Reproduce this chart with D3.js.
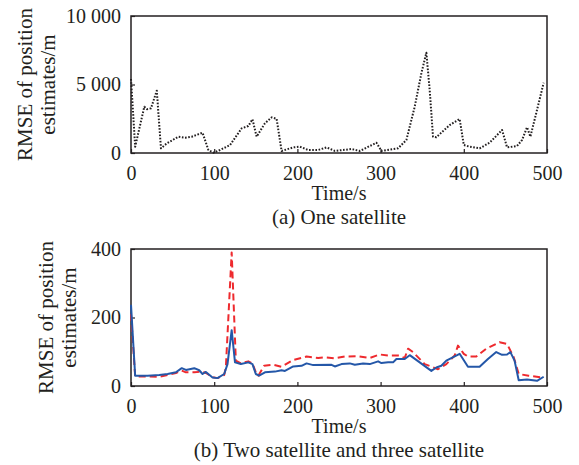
<!DOCTYPE html>
<meta charset="utf-8" />
<html>
<head>
<script src="https://d3js.org/d3.v7.min.js"></script>
<style>
  body { margin: 0; background: #fff; }
  text { font-family: 'Liberation Serif', 'Times New Roman', serif; fill: #231f20; }
</style>
</head>
<body>
<script type="text/javascript">
// (a) one satellite
var oneTime = [0, 5, 16, 19, 24, 31, 36, 43, 57, 65, 73, 86, 93, 99, 107, 119, 133, 141, 146, 151, 161, 169, 175, 181,
  195, 203, 213, 225, 235, 245, 265, 275, 295, 301, 321, 331, 341, 349, 355, 359, 363, 367, 383, 395, 400, 407, 419,
  431, 446, 452, 464, 470, 476, 480, 488, 496];
var oneRmse = [5400, 460, 3380, 3200, 3260, 4550, 340, 700, 1190, 1120, 1190, 1480, 220, 20, 220, 580, 1800, 1970, 2460,
  1190, 2170, 2600, 2500, 150, 410, 460, 220, 220, 410, 150, 290, 150, 750, 150, 340, 950, 3380, 5820, 7320, 4600,
  1190, 1150, 2040, 2480, 580, 460, 340, 750, 1680, 410, 510, 950, 1880, 1190, 3140, 5130];

// (b) two satellite (red dashed)
var twoTime = [0, 5, 20, 34, 44, 54, 61, 66, 76, 86, 90, 98, 104, 112, 114, 121, 126, 132, 141, 146, 150, 153, 160, 171,
  181, 195, 211, 225, 233, 245, 257, 271, 287, 299, 309, 321, 329, 333, 339, 353, 369, 379, 389, 393, 400, 405, 415,
  427, 443, 452, 460, 466, 478, 494];
var twoRmse = [210, 28, 28, 27, 32, 38, 45, 40, 40, 42, 38, 26, 23, 32, 54, 390, 74, 66, 72, 66, 40, 30, 59, 62,
  56, 76, 86, 82, 84, 81, 86, 87, 82, 92, 89, 89, 82, 109, 99, 64, 49, 64, 89, 118, 94, 86, 86,
  109, 128, 123, 84, 35, 30, 25];

// three satellite (blue solid)
var threeTime = [0, 5, 20, 34, 44, 54, 61, 66, 76, 82, 86, 90, 98, 104, 112, 116, 121, 125, 132, 141, 146, 150, 154, 161,
  173, 181, 185, 195, 205, 211, 219, 241, 245, 253, 263, 269, 279, 287, 297, 301, 309, 315, 319, 329, 335, 347, 361,
  367, 373, 379, 395, 405, 419, 429, 439, 446, 452, 456, 461, 466, 476, 488, 496];
var threeRmse = [237, 30, 30, 32, 35, 40, 52, 47, 52, 46, 35, 41, 25, 23, 35, 64, 163, 69, 64, 69, 64, 35, 30, 40,
  42, 46, 44, 57, 59, 66, 61, 62, 57, 64, 66, 62, 66, 64, 72, 67, 69, 69, 79, 79, 90, 69, 44,
  54, 59, 74, 94, 56, 56, 79, 99, 91, 92, 99, 74, 17, 19, 15, 27];

var timeTicks = [0, 100, 200, 300, 400, 500];
var oneTicks = [0, 5000, 10000];
var twoTicks = [0, 200, 400];

var width = 579, height = 465;
var svg = d3.select('body').append('svg')
    .attr('width', width)
    .attr('height', height);

var fmt = function(d) { return d3.format(',')(d).replace(',', ' '); };

function panel(top, bottom, yMax, yTicks, caption, ylabX) {
  var x = d3.scaleLinear().domain([0, 500]).range([131, 547]);
  var y = d3.scaleLinear().domain([0, yMax]).range([bottom, top]);
  var g = svg.append('g');

  // frame
  g.append('rect')
      .attr('x', 131).attr('y', top)
      .attr('width', 416).attr('height', bottom - top)
      .attr('fill', 'none')
      .attr('stroke', '#231f20')
      .attr('stroke-width', 1.5);

  var xa = g.append('g')
      .attr('transform', 'translate(0,' + bottom + ')')
      .call(d3.axisBottom(x).tickValues(timeTicks).tickSizeInner(-4).tickSizeOuter(0).tickPadding(8));
  var ya = g.append('g')
      .attr('transform', 'translate(131,0)')
      .call(d3.axisLeft(y).tickValues(yTicks).tickFormat(fmt).tickSizeInner(-4).tickSizeOuter(0).tickPadding(10));
  [xa, ya].forEach(function(a) {
    a.select('.domain').remove();
    a.selectAll('line').attr('stroke', '#231f20').attr('stroke-width', 1.2);
    a.selectAll('text').style('font-size', '20px').attr('fill', '#231f20');
  });
  xa.selectAll('text').attr('dy', '0.95em');

  g.append('text')
      .attr('x', 339).attr('y', bottom + 47)
      .attr('text-anchor', 'middle')
      .style('font-size', '20px')
      .text('Time/s');
  g.append('text')
      .attr('x', 339).attr('y', bottom + 71)
      .attr('text-anchor', 'middle')
      .style('font-size', '21px')
      .text(caption);

  var cy = (top + bottom) / 2 + 0;
  g.append('text')
      .attr('transform', 'translate(' + ylabX + ',' + cy + ') rotate(-90)')
      .attr('text-anchor', 'middle')
      .style('font-size', '21px')
      .text('RMSE of position');
  g.append('text')
      .attr('transform', 'translate(' + (ylabX + 23) + ',' + cy + ') rotate(-90)')
      .attr('text-anchor', 'middle')
      .style('font-size', '21px')
      .text('estimates/m');

  return {x: x, y: y, g: g};
}

function drawLine(p, ts, vs, color, width, dash) {
  var line = d3.line()
      .x(function(d) { return p.x(d[0]); })
      .y(function(d) { return p.y(d[1]); });
  p.g.append('path')
      .attr('d', line(d3.zip(ts, vs)))
      .attr('fill', 'none')
      .attr('stroke', color)
      .attr('stroke-width', width)
      .attr('stroke-dasharray', dash)
      .attr('stroke-linejoin', 'round');
}

var pa = panel(16, 153, 10000, oneTicks, '(a) One satellite', 32);
drawLine(pa, oneTime, oneRmse, '#231f20', 2, '1.6,1.6');

var pb = panel(249, 386, 400, twoTicks, '(b) Two satellite and three satellite', 53);
drawLine(pb, twoTime, twoRmse, '#ee2a2e', 2, '7,4');
drawLine(pb, threeTime, threeRmse, '#2457a8', 2, null);
</script>
</body>
</html>
